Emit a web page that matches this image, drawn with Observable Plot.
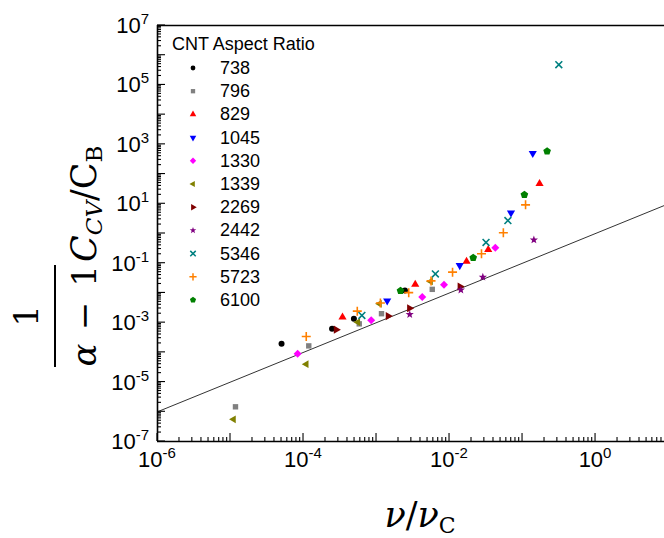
<!DOCTYPE html>
<html><head><meta charset="utf-8">
<script src="https://cdn.jsdelivr.net/npm/d3@7"></script>
<script src="https://cdn.jsdelivr.net/npm/@observablehq/plot@0.6"></script>
<style>body{margin:0;background:#fff} #chart svg{display:block;background:#fff}</style>
</head><body><div id="chart"></div>
<script>
// ---- data ----
const ratios = ["738","796","829","1045","1330","1339","2269","2442","5346","5723","6100"];
const colors = ["#000000","#808080","#ff0000","#0000ff","#ff00ff","#808000","#800000","#800080","#008080","#ff8000","#008000"];

const x738  = [5.0e-5, 2.46e-4, 4.9e-4, 2.45e-3];
const y738  = [1.95e-4, 6.2e-4, 1.35e-3, 1.2e-2];
const x796  = [1.17e-5, 1.18e-4, 5.8e-4, 1.17e-3, 5.8e-3];
const y796  = [1.47e-6, 1.65e-4, 9.1e-4, 2.0e-3, 1.32e-2];
const x829  = [3.42e-4, 3.39e-3, 1.71e-2, 3.39e-2, 0.171];
const y829  = [1.53e-3, 1.93e-2, 0.115, 0.285, 47.5];
const x1045 = [1.40e-3, 1.38e-2, 6.95e-2, 0.138];
const y1045 = [5.4e-3, 8.4e-2, 4.94, 498];
const x1330 = [8.3e-5, 8.45e-4, 4.23e-3, 8.4e-3, 4.24e-2];
const y1330 = [8.97e-5, 1.21e-3, 7.3e-3, 1.9e-2, 0.333];
const x1339 = [1.1e-5, 1.09e-4, 5.55e-4, 1.1e-3, 5.5e-3];
const y1339 = [5.6e-7, 4.0e-5, 1.04e-3, 4.3e-3, 2.44e-2];
const x2269 = [2.8e-4, 1.44e-3, 2.83e-3, 1.39e-2];
const y2269 = [5.8e-4, 1.66e-3, 3.05e-3, 1.63e-2];
const x2442 = [2.85e-3, 1.43e-2, 2.86e-2, 0.143];
const y2442 = [1.89e-3, 1.26e-2, 3.4e-2, 0.61];
const x5346 = [6.3e-4, 6.4e-3, 3.16e-2, 6.3e-2, 0.314];
const y5346 = [1.75e-3, 4.37e-2, 0.50, 2.72, 4.8e5];
const x5723 = [1.09e-4, 5.45e-4, 1.13e-3, 2.76e-3, 5.58e-3, 1.1e-2, 2.74e-2, 5.46e-2, 0.11];
const y5723 = [3.43e-4, 2.44e-3, 4.6e-3, 1.02e-2, 2.54e-2, 5.0e-2, 0.209, 1.06, 9.2];
const x6100 = [2.13e-3, 2.11e-2, 0.106, 0.217];
const y6100 = [1.19e-2, 0.153, 20.2, 590];

const fitX = [1e-6, 10];
const fitY = [1e-6, 10];

const xTickExps = [-6, -4, -2, 0];
const yTickExps = [-7, -5, -3, -1, 1, 3, 5, 7];

// ---- symbols ----
const sym = {
  circle: {draw(c, s){ const r = Math.sqrt(s/Math.PI); c.moveTo(r,0); c.arc(0,0,r,0,2*Math.PI); }},
  square: {draw(c, s){ const a = Math.sqrt(s/Math.PI)*0.9; c.rect(-a,-a,2*a,2*a); }},
  triUp: {draw(c, s){ const r = Math.sqrt(s/Math.PI)*1.35; c.moveTo(0,-r); c.lineTo(r*0.866,r*0.5); c.lineTo(-r*0.866,r*0.5); c.closePath(); }},
  triDown: {draw(c, s){ const r = Math.sqrt(s/Math.PI)*1.35; c.moveTo(0,r); c.lineTo(r*0.866,-r*0.5); c.lineTo(-r*0.866,-r*0.5); c.closePath(); }},
  triLeft: {draw(c, s){ const r = Math.sqrt(s/Math.PI)*1.35; c.moveTo(-r,0); c.lineTo(r*0.5,-r*0.866); c.lineTo(r*0.5,r*0.866); c.closePath(); }},
  triRight: {draw(c, s){ const r = Math.sqrt(s/Math.PI)*1.35; c.moveTo(r,0); c.lineTo(-r*0.5,-r*0.866); c.lineTo(-r*0.5,r*0.866); c.closePath(); }},
  diamond: {draw(c, s){ const r = Math.sqrt(s/Math.PI)*1.25; c.moveTo(0,-r); c.lineTo(r,0); c.lineTo(0,r); c.lineTo(-r,0); c.closePath(); }},
  star: {draw(c, s){ const R = Math.sqrt(s/Math.PI)*1.3, r = R*0.42; for (let k=0;k<10;k++){ const a = -Math.PI/2 + k*Math.PI/5, rr = k%2? r : R; const px = rr*Math.cos(a), py = rr*Math.sin(a); k? c.lineTo(px,py) : c.moveTo(px,py);} c.closePath(); }},
  times: {draw(c, s){ const a = Math.sqrt(s/Math.PI)*0.95; c.moveTo(-a,-a); c.lineTo(a,a); c.moveTo(-a,a); c.lineTo(a,-a); }},
  plus: {draw(c, s){ const a = Math.sqrt(s/Math.PI)*1.25; c.moveTo(-a,0); c.lineTo(a,0); c.moveTo(0,-a); c.lineTo(0,a); }},
  pentagon: {draw(c, s){ const r = Math.sqrt(s/Math.PI)*1.15; for (let k=0;k<5;k++){ const a = -Math.PI/2 + k*2*Math.PI/5; k? c.lineTo(r*Math.cos(a), r*Math.sin(a)) : c.moveTo(r*Math.cos(a), r*Math.sin(a)); } c.closePath(); }}
};
const symbolList = [sym.circle, sym.square, sym.triUp, sym.triDown, sym.diamond, sym.triLeft, sym.triRight, sym.star, sym.times, sym.plus, sym.pentagon];
const strokeOnly = [false,false,false,false,false,false,false,false,true,true,false];
const radius = [3, 3, 3.5, 3.5, 3.2, 3.3, 3.5, 3.3, 3.6, 3.6, 3.5];

const xsData = [x738,x796,x829,x1045,x1330,x1339,x2269,x2442,x5346,x5723,x6100];
const ysData = [y738,y796,y829,y1045,y1330,y1339,y2269,y2442,y5346,y5723,y6100];

const xDomain = [1e-6, 8.8];
const yDomain = [1e-7, 1e7];

const dotMarks = ratios.map((name, i) => {
  const table = xsData[i].map((x, j) => ({x, y: ysData[i][j]}));
  return Plot.dot(table, {
    x: "x", y: "y", r: radius[i], symbol: symbolList[i],
    fill: strokeOnly[i] ? "none" : colors[i],
    stroke: strokeOnly[i] ? colors[i] : "none",
    strokeWidth: strokeOnly[i] ? 1.6 : 0
  });
});

const fitTable = fitX.map((x, j) => ({x, y: fitY[j]}));

const chart = Plot.plot({
  width: 664, height: 538,
  marginLeft: 157, marginRight: 0, marginTop: 25, marginBottom: 97,
  style: {background: "#fff"},
  x: {type: "log", domain: xDomain, axis: null},
  y: {type: "log", domain: yDomain, axis: null},
  marks: [
    Plot.line(fitTable, {x: "x", y: "y", stroke: "#333", strokeWidth: 1, clip: true}),
    ...dotMarks,
    Plot.ruleX([xDomain[0]], {stroke: "#000", strokeWidth: 1.6}),
    Plot.ruleY([yDomain[0]], {stroke: "#000", strokeWidth: 1.6}),
    Plot.ruleY([yDomain[1]], {stroke: "#000", strokeWidth: 1.6})
  ]
});
document.getElementById("chart").appendChild(chart);

// ---- ticks, labels, legend, titles ----
const xs = chart.scale("x"), ys = chart.scale("y");
const svg = d3.select(chart);
const g = svg.append("g").attr("stroke", "#000").attr("stroke-width", 1.1);
const xLeft = xs.apply(xDomain[0]), yBottom = ys.apply(yDomain[0]);

function decadeTicks(lo, hi) {
  const majors = [], minors = [];
  for (let e = Math.floor(Math.log10(lo)); e <= Math.ceil(Math.log10(hi)); e++) {
    const base = Math.pow(10, e);
    if (base >= lo * 0.999 && base <= hi * 1.001) majors.push(base);
    for (let k = 2; k <= 9; k++) { const v = k * base; if (v > lo && v < hi) minors.push(v); }
  }
  return {majors, minors};
}
const xt = decadeTicks(xDomain[0], xDomain[1]);
const yt = decadeTicks(yDomain[0], yDomain[1]);
for (const v of xt.majors) { const px = xs.apply(v); g.append("line").attr("x1", px).attr("x2", px).attr("y1", yBottom).attr("y2", yBottom - 8); }
for (const v of xt.minors) { const px = xs.apply(v); g.append("line").attr("x1", px).attr("x2", px).attr("y1", yBottom).attr("y2", yBottom - 4); }
for (const v of yt.majors) { const py = ys.apply(v); g.append("line").attr("y1", py).attr("y2", py).attr("x1", xLeft).attr("x2", xLeft + 8); }
for (const v of yt.minors) { const py = ys.apply(v); g.append("line").attr("y1", py).attr("y2", py).attr("x1", xLeft).attr("x2", xLeft + 4); }

const sans = "'Liberation Sans', Arial, sans-serif";
const lab = svg.append("g").attr("font-family", sans).attr("fill", "#000");
for (const e of xTickExps) {
  const t = lab.append("text").attr("x", xs.apply(Math.pow(10, e))).attr("y", 467).attr("text-anchor", "middle").attr("font-size", 22);
  t.append("tspan").text("10");
  t.append("tspan").attr("dy", -9).attr("font-size", 15).text(String(e));
}
for (const e of yTickExps) {
  const t = lab.append("text").attr("x", 149).attr("y", ys.apply(Math.pow(10, e)) + 8).attr("text-anchor", "end").attr("font-size", 22);
  t.append("tspan").text("10");
  t.append("tspan").attr("dy", -9).attr("font-size", 15).text(String(e));
}

// legend
const leg = svg.append("g").attr("font-family", sans).attr("font-size", 18).attr("fill", "#000").attr("text-anchor", "start");
leg.append("text").attr("x", 172).attr("y", 50).attr("text-anchor", "start").text("CNT Aspect Ratio");
ratios.forEach((name, i) => {
  const by = 74 + i * 23.2;
  const r = radius[i] * 0.8;
  leg.append("path")
    .attr("d", d3.symbol(symbolList[i], Math.PI * r * r)())
    .attr("transform", `translate(193,${by - 6})`)
    .attr("fill", strokeOnly[i] ? "none" : colors[i])
    .attr("stroke", strokeOnly[i] ? colors[i] : "none")
    .attr("stroke-width", 1.5);
  leg.append("text").attr("x", 220).attr("y", by).attr("text-anchor", "start").text(name);
});

// axis titles
const serif = "'DejaVu Serif', 'Liberation Serif', serif";
const xt2 = svg.append("text").attr("x", 420).attr("y", 527).attr("text-anchor", "middle")
  .attr("font-family", serif).attr("font-size", 35).attr("fill", "#000");
xt2.append("tspan").attr("font-style", "italic").text("ν");
xt2.append("tspan").text("/");
xt2.append("tspan").attr("font-style", "italic").text("ν");
xt2.append("tspan").attr("dy", 6).attr("font-size", 22).text("C");

const yg = svg.append("g").attr("transform", "rotate(-90)").attr("font-family", serif).attr("fill", "#000").attr("text-anchor", "middle");
yg.append("text").attr("x", -316).attr("y", 38).attr("font-size", 34).text("1");
yg.append("line").attr("x1", -367).attr("x2", -265).attr("y1", 55).attr("y2", 55).attr("stroke", "#000").attr("stroke-width", 2);
yg.append("text").attr("x", -355).attr("y", 96).attr("font-size", 34).attr("font-style", "italic").text("α");
yg.append("text").attr("x", -316).attr("y", 96).attr("font-size", 34).text("−");
yg.append("text").attr("x", -276).attr("y", 96).attr("font-size", 34).text("1");
const cc = yg.append("text").attr("x", -262).attr("y", 96).attr("text-anchor", "start").attr("font-size", 35);
cc.append("tspan").attr("font-style", "italic").text("C");
cc.append("tspan").attr("font-style", "italic").attr("font-size", 23).attr("dy", 6).text("CV");
cc.append("tspan").attr("dy", -6).text("/C");
cc.append("tspan").attr("font-size", 23).attr("dy", 6).text("B");
</script>
</body></html>
